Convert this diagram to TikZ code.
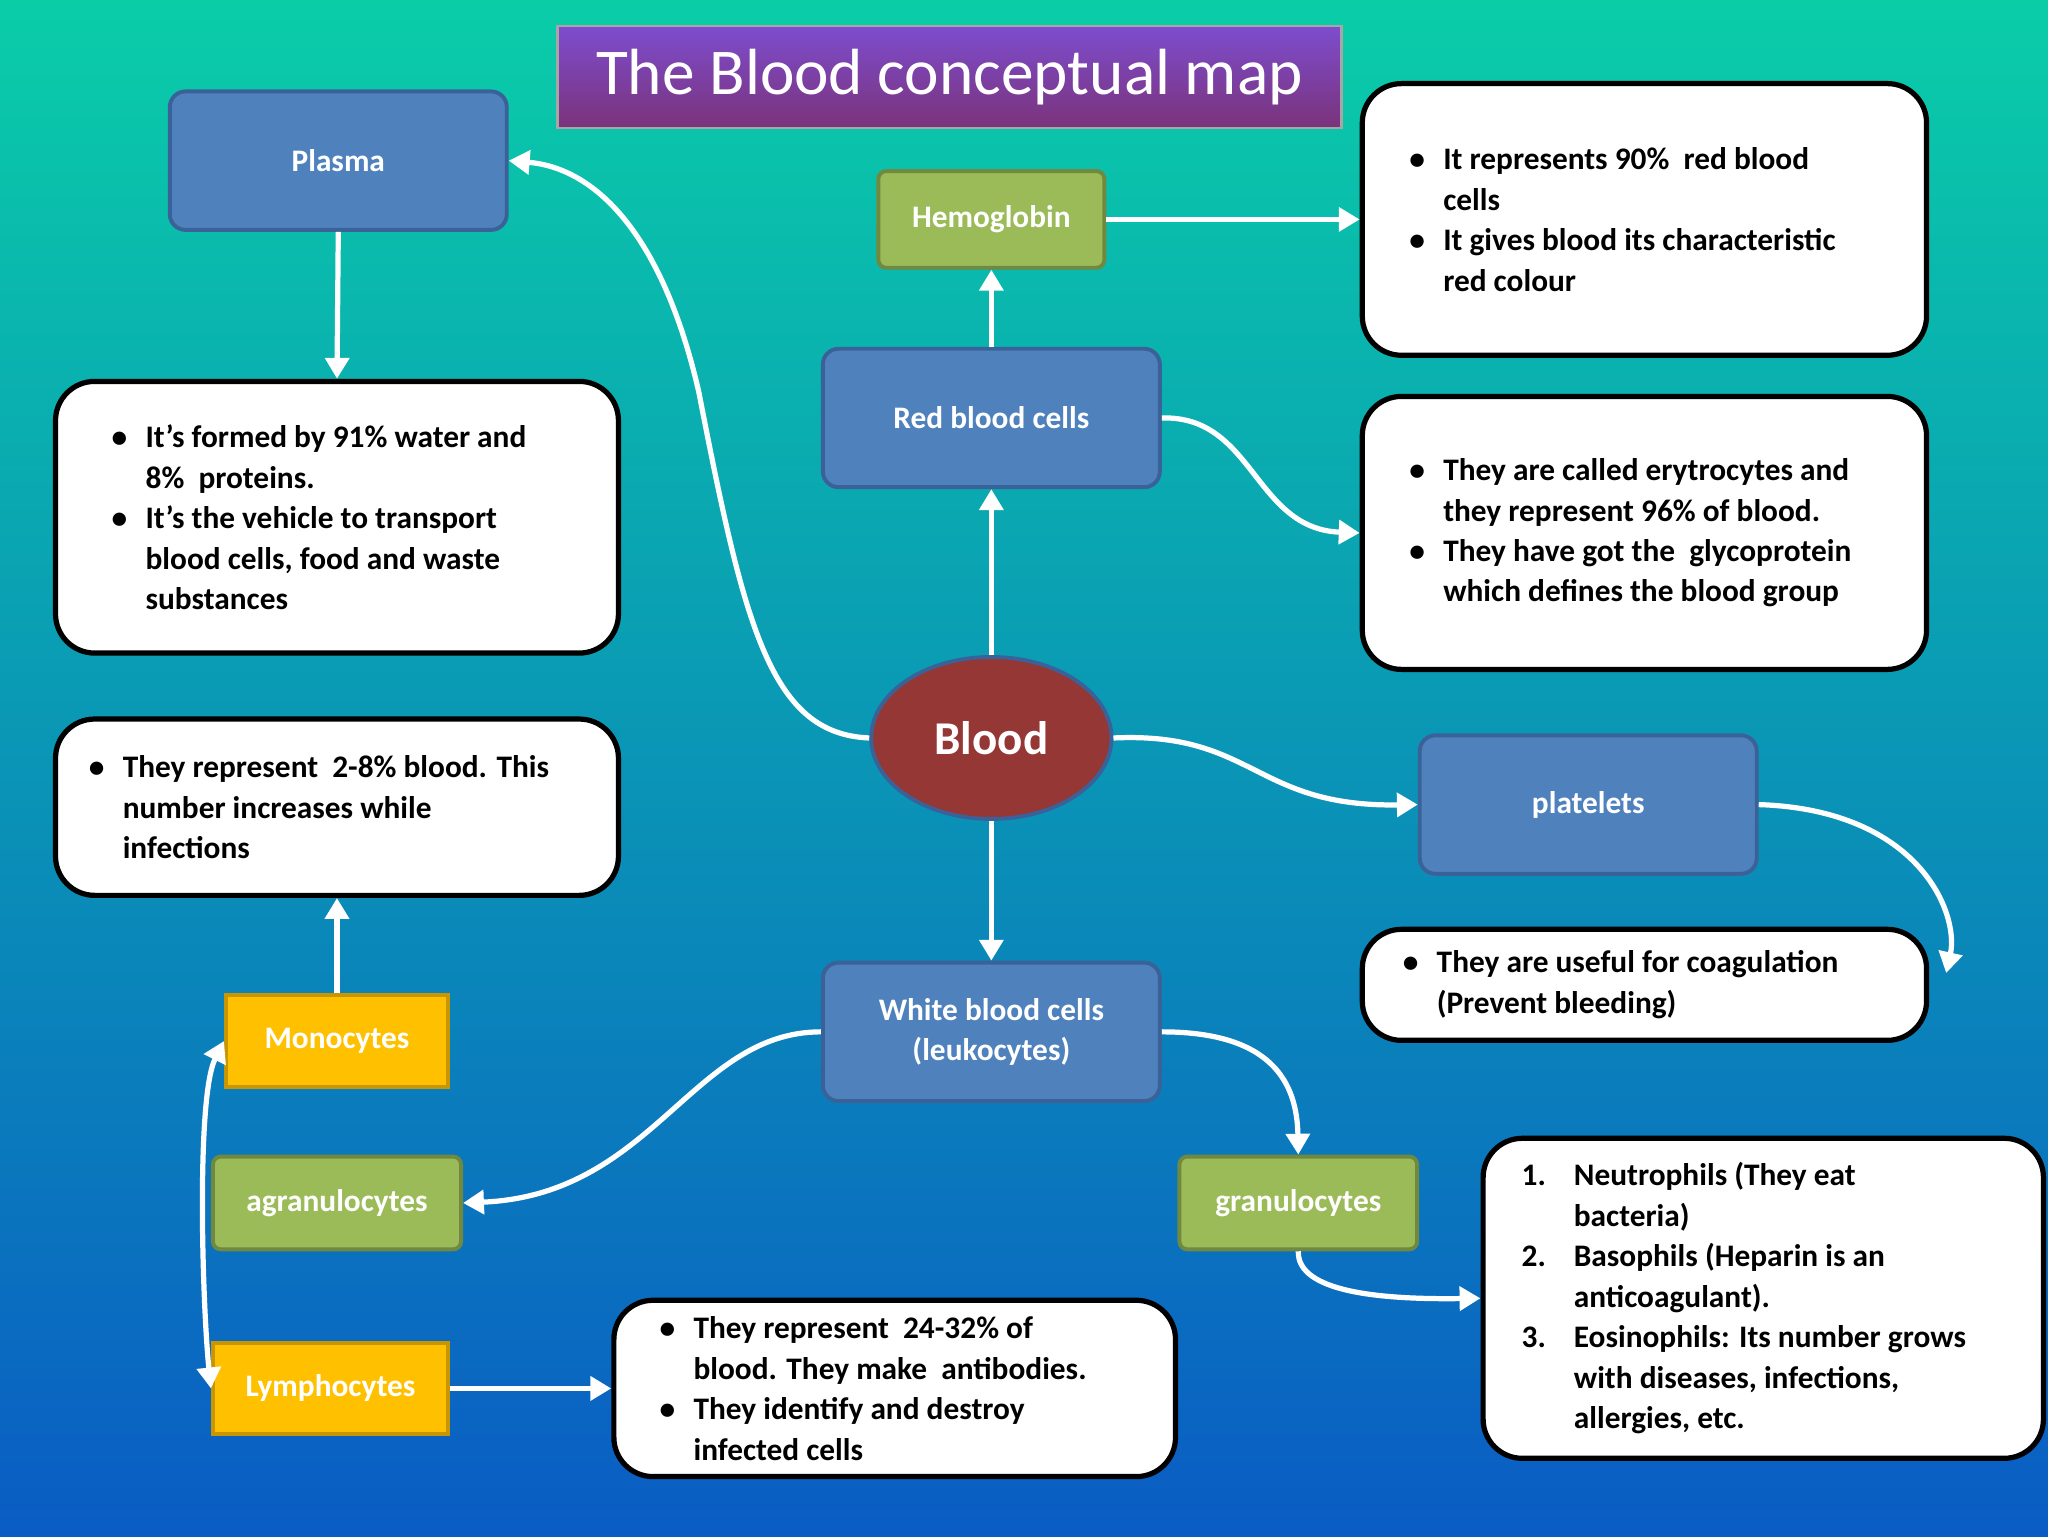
\documentclass[tikz,border=0pt]{standalone}
\usepackage{fontspec}
\setmainfont{Carlito}
\usetikzlibrary{shapes.geometric,arrows.meta}
\definecolor{bgtop}{HTML}{0ACDA8}
\definecolor{bgbot}{HTML}{0A5CC4}
\definecolor{nblue}{HTML}{4F81BD}
\definecolor{nblueb}{HTML}{3A6298}
\definecolor{ngreen}{HTML}{9BBB59}
\definecolor{ngreenb}{HTML}{71893F}
\definecolor{nyel}{HTML}{FFC000}
\definecolor{nyelb}{HTML}{C89600}
\definecolor{nred}{HTML}{953735}
\newcommand\bul[1]{\par\noindent\hangindent=26pt\hangafter=1\makebox[26pt][l]{\textbullet}#1}
\newcommand\num[2]{\par\noindent\hangindent=40pt\hangafter=1\makebox[40pt][l]{#1}#2}
\tikzset{
 base/.style={font=\fontsize{24}{31}\selectfont\bfseries, text=white, line width=3pt, align=center},
 bbox/.style={base, fill=nblue, draw=nblueb, rounded corners=12pt},
 gbox/.style={base, fill=ngreen, draw=ngreenb, rounded corners=6pt},
 ybox/.style={base, fill=nyel, draw=nyelb},
 wbox/.style={font=\fontsize{24}{31}\selectfont\bfseries, fill=white, draw=black, line width=4pt, rounded corners=30pt, align=left, inner sep=0pt},
 arr/.style={draw=white, line width=4pt, -{Triangle[length=16pt,width=18pt]}},
}
\begin{document}
\begin{tikzpicture}[x=1pt,y=-1pt]
\shade[top color=bgtop, bottom color=bgbot] (0,0) rectangle (1568,1176);
\path[use as bounding box] (0,0) rectangle (1568,1176);
% title
\node[shade, top color=violet!55!blue!70!white, bottom color=violet!70!black!80, draw=gray!70, line width=2pt, minimum width=600, minimum height=78, text=white, font=\fontsize{50}{56}\selectfont] (title) at (727,59) {The Blood conceptual map};
% nodes
\node[bbox, minimum width=258, minimum height=106] (plasma) at (259,123) {Plasma};
\node[gbox, minimum width=173, minimum height=74] (hb) at (759,168) {Hemoglobin};
\node[bbox, minimum width=258, minimum height=106] (rbc) at (759,320) {Red blood cells};
\node[ellipse, fill=nred, draw=nblueb, line width=3pt, minimum width=184, minimum height=124, text=white, font=\fontsize{36}{40}\selectfont\bfseries] (blood) at (759,565) {Blood};
\node[bbox, minimum width=258, minimum height=106] (plt) at (1216,616) {platelets};
\node[bbox, minimum width=258, minimum height=106] (wbc) at (759,790) {White blood cells\\(leukocytes)};
\node[ybox, minimum width=170, minimum height=71] (mono) at (258,797) {Monocytes};
\node[gbox, minimum width=190, minimum height=71] (agr) at (258,921) {agranulocytes};
\node[ybox, minimum width=180, minimum height=70] (lym) at (253,1063) {Lymphocytes};
\node[gbox, minimum width=182, minimum height=71] (gran) at (994,921) {granulocytes};
% white boxes
\node[wbox, minimum width=431, minimum height=208] (tplasma) at (258,396) {\parbox{345pt}{\bul{It’s formed by 91\% water and\newline 8\%~ proteins.}\bul{It’s the vehicle to transport\newline blood cells, food and waste\newline substances}}};
\node[wbox, minimum width=432, minimum height=208] (thb) at (1259,168) {\parbox{360pt}{\bul{It represents 90\%~ red blood\newline cells}\bul{It gives blood its characteristic\newline red colour}}};
\node[wbox, minimum width=432, minimum height=209] (trbc) at (1259,408) {\parbox{360pt}{\bul{They are called erytrocytes and\newline they represent 96\% of blood.}\bul{They have got the~ glycoprotein\newline which defines the blood group}}};
\node[wbox, minimum width=432, minimum height=85] (tplt) at (1259,754) {\parbox{370pt}{\bul{They are useful for coagulation\newline (Prevent bleeding)}}};
\node[wbox, minimum width=431, minimum height=135] (tmono) at (258,618) {\parbox{380pt}{\bul{They represent~ 2-8\% blood. This\newline number increases while\newline infections}}};
\node[wbox, minimum width=430, minimum height=135] (tlym) at (685,1063) {\parbox{360pt}{\bul{They represent~ 24-32\% of\newline blood. They make~ antibodies.}\bul{They identify and destroy\newline infected cells}}};
\node[wbox, minimum width=429, minimum height=245] (tgran) at (1350,994) {\parbox{370pt}{\num{1.}{Neutrophils (They eat\newline bacteria)}\num{2.}{Basophils (Heparin is an\newline anticoagulant).}\num{3.}{Eosinophils: Its number grows\newline with diseases, infections,\newline allergies, etc.}}};
% connectors
\draw[arr] (blood.west) .. controls (590,562) and (570,480) .. (535,300) .. controls (505,170) and (450,128) .. (plasma.east);
\draw[arr] (plasma.south) -- (tplasma.north);
\draw[arr] (blood.north) -- (rbc.south);
\draw[arr] (rbc.north) -- (hb.south);
\draw[arr] (hb.east) -- (thb.west);
\draw[arr] (rbc.east) .. controls (960,318) and (960,405) .. (trbc.west);
\draw[arr] (blood.east) .. controls (960,560) and (960,618) .. (plt.west);
\draw[arr] (plt.east) .. controls (1470,620) and (1500,700) .. (1490,745);
\draw[arr] (blood.south) -- (wbc.north);
\draw[arr] (wbc.west) .. controls (530,790) and (500,915) .. (agr.east);
\draw[arr] (wbc.east) .. controls (975,790) and (993,830) .. (gran.north);
\draw[arr] (gran.south) .. controls (993,990) and (1060,995) .. (tgran.west);
\draw[arr] (mono.north) -- (tmono.south);
\draw[arr] (lym.east) -- (tlym.west);
\draw[arr, {Triangle[length=16pt,width=18pt]}-{Triangle[length=16pt,width=18pt]}] (lym.west) .. controls (155,1000) and (150,840) .. (mono.west);
\end{tikzpicture}
\end{document}
